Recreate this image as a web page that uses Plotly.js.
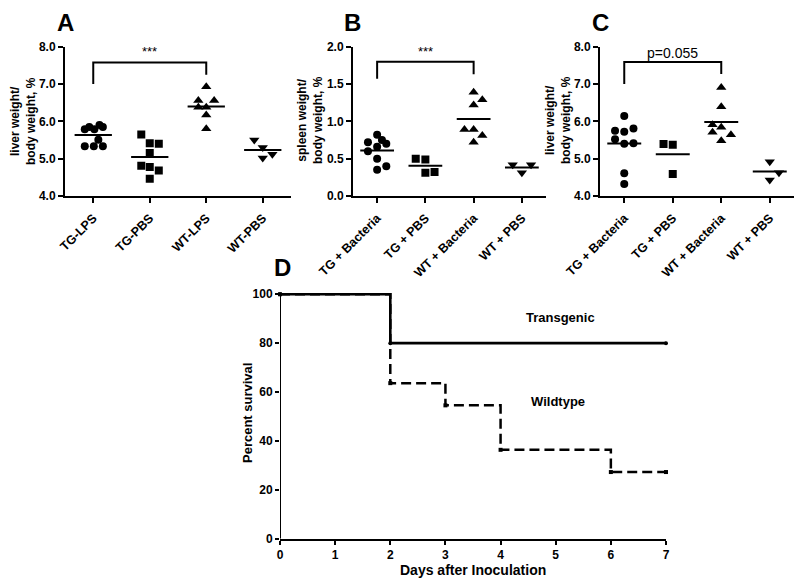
<!DOCTYPE html>
<html><head><meta charset="utf-8">
<script src="https://cdn.plot.ly/plotly-3.0.1.min.js"></script>
<style>html,body{margin:0;padding:0;background:#fff}#chart{width:800px;height:581px}</style>
</head><body><div id="chart"></div>
<script>
// ---------- data ----------
const catsA = ['TG-LPS', 'TG-PBS', 'WT-LPS', 'WT-PBS'];
const catsBC = ['TG + Bacteria', 'TG + PBS', 'WT + Bacteria', 'WT + PBS'];

// Panel A: liver weight / body weight, % (LPS)
const A_TG_LPS = [5.79, 5.85, 5.79, 5.90, 5.85, 5.51, 5.33, 5.33, 5.33];
const A_TG_LPS_jit = [-0.15, -0.07, 0.02, 0.11, 0.17, 0.09, -0.15, 0.01, 0.17];
const A_TG_PBS = [5.65, 5.41, 5.40, 5.15, 4.81, 4.78, 4.68, 4.46];
const A_TG_PBS_jit = [-0.15, 0, 0.16, 0, -0.15, 0, 0.16, 0];
const A_WT_LPS = [6.93, 6.56, 6.56, 6.38, 6.38, 6.17, 5.80];
const A_WT_LPS_jit = [0, -0.14, 0.14, -0.14, 0, 0, 0];
const A_WT_PBS = [5.50, 5.30, 5.02, 5.12];
const A_WT_PBS_jit = [-0.15, 0, 0, 0.17];

// Panel B: spleen weight / body weight, % (bacteria)
const B_TG_BAC = [0.82, 0.72, 0.75, 0.70, 0.66, 0.60, 0.50, 0.35, 0.40];
const B_TG_BAC_jit = [0, -0.19, 0.1, 0.19, 0, -0.19, 0, 0, 0.19];
const B_TG_PBS = [0.50, 0.49, 0.31, 0.32];
const B_TG_PBS_jit = [-0.2, 0, 0, 0.19];
const B_WT_BAC = [1.39, 1.22, 1.29, 0.89, 0.89, 0.81, 0.72];
const B_WT_BAC_jit = [0, 0, 0.18, -0.19, 0, 0.18, 0];
const B_WT_PBS = [0.42, 0.42, 0.31];
const B_WT_PBS_jit = [-0.19, 0.19, 0];

// Panel C: liver weight / body weight, % (bacteria)
const C_TG_BAC = [6.14, 5.75, 5.72, 5.81, 5.52, 5.40, 5.41, 4.61, 4.32];
const C_TG_BAC_jit = [0, -0.19, 0, 0.19, -0.19, 0, 0.19, 0, 0];
const C_TG_PBS = [5.39, 5.37, 4.59];
const C_TG_PBS_jit = [-0.19, 0, 0];
const C_WT_BAC = [6.91, 6.39, 5.91, 5.84, 5.71, 5.64, 5.48];
const C_WT_BAC_jit = [0, 0, -0.18, 0, -0.18, 0.2, 0];
const C_WT_PBS = [4.92, 4.62, 4.43];
const C_WT_PBS_jit = [0, 0.19, 0];

// significance brackets: [left leg bottom, bar, right leg bottom, label y]
const bracketA = [7.0, 7.58, 7.25, 7.87];
const bracketB = [1.57, 1.80, 1.63, 1.93];
const bracketC = [7.0, 7.59, 7.27, 7.82];
const labelA = '***', labelB = '***', labelC = 'p=0.055';

// Panel D: Kaplan-Meier survival
const days = [0, 1, 2, 3, 4, 5, 6, 7];
const survTicks = [0, 20, 40, 60, 80, 100];
const tgDays = [0, 2, 7];
const tgSurv = [100, 80, 80];
const wtDays = [0, 2, 3, 4, 6, 7];
const wtSurv = [100, 63.64, 54.55, 36.36, 27.27, 27.27];

// ---------- drawing ----------
const FONT = 'Liberation Sans, Arial, sans-serif';
const W = 800, H = 581;
const px = x => x / W, py = y => 1 - y / H;

const traces = [];
const symbols = ['circle', 'square', 'triangle-up', 'triangle-down'];
const mean = a => a.reduce((s, v) => s + v, 0) / a.length;

function addPanel(groups, jits, xa, ya, half) {
  groups.forEach((g, i) => {
    traces.push({
      x: g.map((v, k) => i + jits[i][k]), y: g,
      xaxis: xa, yaxis: ya, mode: 'markers', type: 'scatter',
      marker: {symbol: symbols[i], size: i >= 2 ? 9 : 8, color: '#000'},
      hoverinfo: 'y', showlegend: false
    });
    const m = mean(g);
    traces.push({
      x: [i - half, i + half], y: [m, m], xaxis: xa, yaxis: ya,
      mode: 'lines', line: {color: '#000', width: 2}, hoverinfo: 'skip', showlegend: false
    });
  });
}
function addBracket(b, xa, ya) {
  traces.push({
    x: [0, 0, 2, 2], y: [b[0], b[1], b[1], b[2]], xaxis: xa, yaxis: ya,
    mode: 'lines', line: {color: '#000', width: 2}, hoverinfo: 'skip', showlegend: false
  });
}

addPanel([A_TG_LPS, A_TG_PBS, A_WT_LPS, A_WT_PBS],
         [A_TG_LPS_jit, A_TG_PBS_jit, A_WT_LPS_jit, A_WT_PBS_jit], 'x', 'y', 0.33);
addPanel([B_TG_BAC, B_TG_PBS, B_WT_BAC, B_WT_PBS],
         [B_TG_BAC_jit, B_TG_PBS_jit, B_WT_BAC_jit, B_WT_PBS_jit], 'x2', 'y2', 0.35);
addPanel([C_TG_BAC, C_TG_PBS, C_WT_BAC, C_WT_PBS],
         [C_TG_BAC_jit, C_TG_PBS_jit, C_WT_BAC_jit, C_WT_PBS_jit], 'x3', 'y3', 0.35);
addBracket(bracketA, 'x', 'y');
addBracket(bracketB, 'x2', 'y2');
addBracket(bracketC, 'x3', 'y3');

// survival curves
traces.push({
  x: wtDays, y: wtSurv, xaxis: 'x4', yaxis: 'y4', mode: 'lines+markers', cliponaxis: false,
  line: {shape: 'hv', color: '#000', width: 2.5, dash: '10px,5px'},
  marker: {symbol: 'square', size: 4, color: '#000'}, name: 'Wildtype', showlegend: false
});
traces.push({
  x: tgDays, y: tgSurv, xaxis: 'x4', yaxis: 'y4', mode: 'lines+markers', cliponaxis: false,
  line: {shape: 'hv', color: '#000', width: 2.6},
  marker: {symbol: 'circle', size: 4, color: '#000'}, name: 'Transgenic', showlegend: false
});

const tickFont = {family: FONT, size: 12, color: '#000', weight: 'bold'};
function xAx(dom, labels) {
  return {
    domain: dom, range: [-0.5, 3.5], tickmode: 'array', tickvals: [0, 1, 2, 3],
    ticktext: labels, tickangle: -45, showline: true, linewidth: 2, linecolor: '#000',
    ticks: 'outside', ticklen: 5, tickwidth: 2, tickcolor: '#000', showgrid: false,
    zeroline: false, tickfont: {family: FONT, size: 12.5, color: '#000', weight: 'bold'},
    ticklabelstandoff: 3, fixedrange: true
  };
}
function yAx(dom, range, dtick, anchor) {
  return {
    domain: dom, range: range, dtick: dtick, tick0: 0, tickformat: '.1f', anchor: anchor,
    showline: true, linewidth: 2, linecolor: '#000', ticks: 'outside', ticklen: 5,
    tickwidth: 2, tickcolor: '#000', showgrid: false, zeroline: false, tickfont: tickFont,
    fixedrange: true
  };
}
const yTop = [py(196), py(46.7)];

const layout = {
  width: W, height: H, margin: {l: 0, r: 0, t: 0, b: 0},
  paper_bgcolor: '#fff', plot_bgcolor: 'rgba(0,0,0,0)',
  font: {family: FONT, color: '#000'},
  showlegend: false,
  xaxis: Object.assign(xAx([px(65), px(291)], catsA), {anchor: 'y'}),
  yaxis: yAx(yTop, [4, 8], 1, 'x'),
  xaxis2: Object.assign(xAx([px(353), px(546)], catsBC), {anchor: 'y2'}),
  yaxis2: yAx(yTop, [0, 2], 0.5, 'x2'),
  xaxis3: Object.assign(xAx([px(600), px(794)], catsBC), {anchor: 'y3'}),
  yaxis3: yAx(yTop, [4, 8], 1, 'x3'),
  xaxis4: {
    domain: [px(280), px(666)], range: [0, 7], anchor: 'y4', tickmode: 'array', tickvals: days,
    showline: true, linewidth: 2, linecolor: '#000', ticks: 'outside', ticklen: 4,
    tickwidth: 2, tickcolor: '#000', showgrid: false, zeroline: false, tickfont: tickFont,
    fixedrange: true
  },
  // range padded by 0.8 above 100 (with matching domain) so the 100% line is not clipped
  yaxis4: {
    domain: [py(538.7), py(292.3)], range: [0, 100.8], anchor: 'x4', tickmode: 'array',
    tickvals: survTicks, showline: false, ticks: 'outside', ticklen: 4,
    tickwidth: 2, tickcolor: '#000', showgrid: false, zeroline: false, tickfont: tickFont,
    fixedrange: true
  },
  shapes: [{type: 'line', xref: 'x4', yref: 'y4', x0: 0, x1: 0, y0: 0, y1: 100,
            line: {color: '#000', width: 2}}],
  annotations: []
};

const ann = layout.annotations;
function paperText(text, x, y, size, bold, angle) {
  ann.push({text: text, xref: 'paper', yref: 'paper', x: px(x), y: py(y),
    xanchor: 'center', yanchor: 'middle', showarrow: false, textangle: angle || 0,
    font: {family: FONT, size: size, color: '#000', weight: bold ? 'bold' : 'normal'}});
}
// panel letters
paperText('A', 65, 23, 24, true);
paperText('B', 352, 23, 24, true);
paperText('C', 600, 23, 24, true);
paperText('D', 282, 267, 24, true);
// y titles
paperText('liver weight/<br>body weight, %', 23, 121, 12, true, -90);
paperText('spleen weight/<br>body weight, %', 310, 120, 12, true, -90);
paperText('liver weight/<br>body weight, %', 558, 120, 12, true, -90);
paperText('Percent survival', 247, 413, 13, true, -90);
paperText('Days after Inoculation', 473, 570, 14, true);

// significance labels
function axText(text, x, y, xa, ya, size, bold) {
  ann.push({text: text, xref: xa, yref: ya, x: x, y: y, xanchor: 'center', yanchor: 'middle',
    showarrow: false, font: {family: FONT, size: size, color: '#000', weight: bold ? 'bold' : 'normal'}});
}
axText(labelA, 1, bracketA[3], 'x', 'y', 13, false);
axText(labelB, 1, bracketB[3], 'x2', 'y2', 13, false);
axText(labelC, 1, bracketC[3], 'x3', 'y3', 14, false);
axText('Transgenic', 5.08, 90.3, 'x4', 'y4', 13, true);
axText('Wildtype', 5.04, 56.2, 'x4', 'y4', 13, true);

Plotly.newPlot('chart', traces, layout, {staticPlot: true, displayModeBar: false});
</script></body></html>
